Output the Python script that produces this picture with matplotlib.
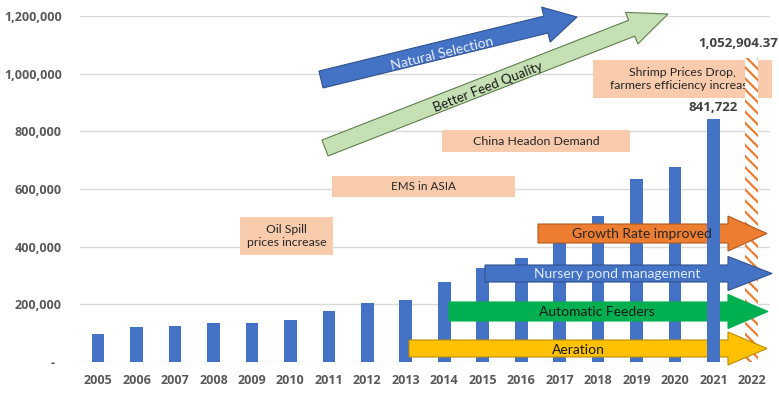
import matplotlib
matplotlib.use("Agg")
import matplotlib.pyplot as plt
from matplotlib.patches import Polygon, Rectangle
import numpy as np

# ---------------- data ----------------
years = ["2005", "2006", "2007", "2008", "2009", "2010", "2011", "2012", "2013",
         "2014", "2015", "2016", "2017", "2018", "2019", "2020", "2021", "2022"]
production = [97000, 120000, 125000, 134000, 136000, 146000, 178000, 203000, 215000,
              276000, 325000, 361000, 430000, 506000, 634000, 675000, 841722, 1052904.37]
forecast_year = "2022"
yticks = [0, 200000, 400000, 600000, 800000, 1000000, 1200000]

events = ["Oil Spill\nprices increase", "EMS in ASIA", "China Headon Demand",
          "Shrimp Prices Drop,\nfarmers efficiency increase"]
trends = ["Natural Selection", "Better Feed Quality"]
practices = ["Growth Rate improved", "Nursery pond management",
             "Automatic Feeders", "Aeration"]

# ---------------- figure ----------------
W, H = 779, 393
plt.rcParams['font.family'] = ['Lato', 'DejaVu Sans']
plt.rcParams['hatch.linewidth'] = 1.6
fig = plt.figure(figsize=(W / 100, H / 100), dpi=100)
ax = fig.add_axes([80 / W, 1 - 362 / H, (770 - 80) / W, (362 - 16) / H])

def fp(px, py):
    return (px / W, 1 - py / H)

x = np.arange(len(years))
colors_bar = "#4472C4"
hist_idx = [i for i, y in enumerate(years) if y != forecast_year]
fc_idx = years.index(forecast_year)

ax.bar([x[i] for i in hist_idx], [production[i] for i in hist_idx], width=0.33,
       color=colors_bar, zorder=2)
ax.bar(x[fc_idx], production[fc_idx], width=0.34, facecolor="white",
       edgecolor="#ED7D31", hatch="\\\\\\", linewidth=0, zorder=4)
# last historical bar sits above the arrows in the original
last = hist_idx[-1]
ax.bar(x[last], production[last], width=0.33, color=colors_bar, zorder=6)

tick_font = dict(family=['Open Sans', 'DejaVu Sans'], weight='bold', size=9)
ax.set_xlim(-0.47, len(years) - 1 + 0.47)
ax.set_ylim(0, 1200000)
ax.set_yticks(yticks)
ax.set_yticklabels(["-  " if v == 0 else f"{v:,}" for v in yticks], fontdict=tick_font)
ax.set_xticks(x)
ax.set_xticklabels(years, fontdict=tick_font)
ax.tick_params(axis='both', length=0, labelcolor="#595959")
ax.tick_params(axis='y', pad=13)
ax.tick_params(axis='x', pad=9)
ax.grid(axis='y', color="#D9D9D9", linewidth=1, zorder=0.5)
ax.set_axisbelow(True)
for s in ax.spines.values():
    s.set_visible(False)

# value labels
ax.annotate(f"{production[last]:,.0f}", (x[last], production[last]),
            xytext=(0, 5), textcoords="offset pixels", ha="center", va="bottom",
            fontsize=9.5, fontweight="bold", family=['Open Sans', 'DejaVu Sans'],
            color="#404040", zorder=7)
ax.annotate(f"{production[fc_idx]:,.2f}", (x[fc_idx], production[fc_idx]),
            xytext=(-14, 8), textcoords="offset pixels", ha="center", va="bottom",
            fontsize=9.5, fontweight="bold", family=['Open Sans', 'DejaVu Sans'],
            color="#404040", zorder=7, annotation_clip=False)

# ---------------- event boxes ----------------
box_geom = [(240, 217, 333, 255), (332, 176, 515, 197), (442, 130, 630, 152),
            (593, 60, 772, 98)]
box_fs = [8.8, 8.4, 8.9, 8.8]
for text, (x0, y0, x1, y1), fs in zip(events, box_geom, box_fs):
    r = Rectangle(fp(x0, y1), (x1 - x0) / W, (y1 - y0) / H, transform=fig.transFigure,
                  facecolor="#F8CBAD", edgecolor="none", zorder=3, clip_on=False)
    ax.add_patch(r)
    ax.text(*fp((x0 + x1) / 2, (y0 + y1) / 2), text,
            transform=fig.transFigure, ha="center", va="center", fontsize=fs,
            color="#262626", zorder=3.5, linespacing=1.25)

# ---------------- arrows ----------------
def arrow(tail, tip, half_w, head_half, head_len, fc, ec, z=5):
    t = np.array(tail, float)
    p = np.array(tip, float)
    d = p - t
    L = np.hypot(*d)
    u = d / L
    n = np.array([-u[1], u[0]])
    b = p - u * head_len
    pts = [t + n * half_w, b + n * half_w, b + n * head_half, p,
           b - n * head_half, b - n * half_w, t - n * half_w]
    pts = [fp(*q) for q in pts]
    poly = Polygon(pts, closed=True, transform=fig.transFigure, facecolor=fc,
                   edgecolor=ec, linewidth=0.8, zorder=z, clip_on=False)
    ax.add_patch(poly)

# diagonal trend arrows
arrow((321, 79.5), (577, 17), 8.7, 18, 32, "#4472C4", "#2F528F")
ax.text(*fp(442, 53), trends[0], transform=fig.transFigure, rotation=13.7,
        rotation_mode="anchor", ha="center", va="center_baseline", fontsize=10,
        color="#E9EEF8", zorder=5.5)
arrow((325, 148), (668, 14), 8.5, 17, 39, "#C5E0B4", "#5F7F50")
ax.text(*fp(488, 86), trends[1], transform=fig.transFigure, rotation=21.5,
        rotation_mode="anchor", ha="center", va="center_baseline", fontsize=9.6,
        color="#1a1a1a", zorder=5.5)

# horizontal practice arrows
harrows = [
    ((538, 233.5), (767, 233.5), 9.5, 17.5, 39, "#ED7D31", "#AE5A21", 642, "#262626"),
    ((485, 273.5), (772, 273.5), 8.5, 17, 44, "#4472C4", "#2F528F", 617, "#DEEBF7"),
    ((449, 311.5), (768, 311.5), 9.5, 17, 40, "#00B050", "#00B050", 597, "#1a1a1a"),
    ((409, 348.5), (767, 348.5), 8.5, 16.5, 39, "#FFC000", "#BC8C00", 578, "#1a1a1a"),
]
for label, (tail, tip, hw, hh, hl, fc, ec, tx, tc) in zip(practices, harrows):
    arrow(tail, tip, hw, hh, hl, fc, ec)
    ax.text(*fp(tx, tail[1]), label, transform=fig.transFigure, ha="center",
            va="center_baseline", fontsize=10, color=tc, zorder=7)

fig.savefig("out.png", dpi=100)
